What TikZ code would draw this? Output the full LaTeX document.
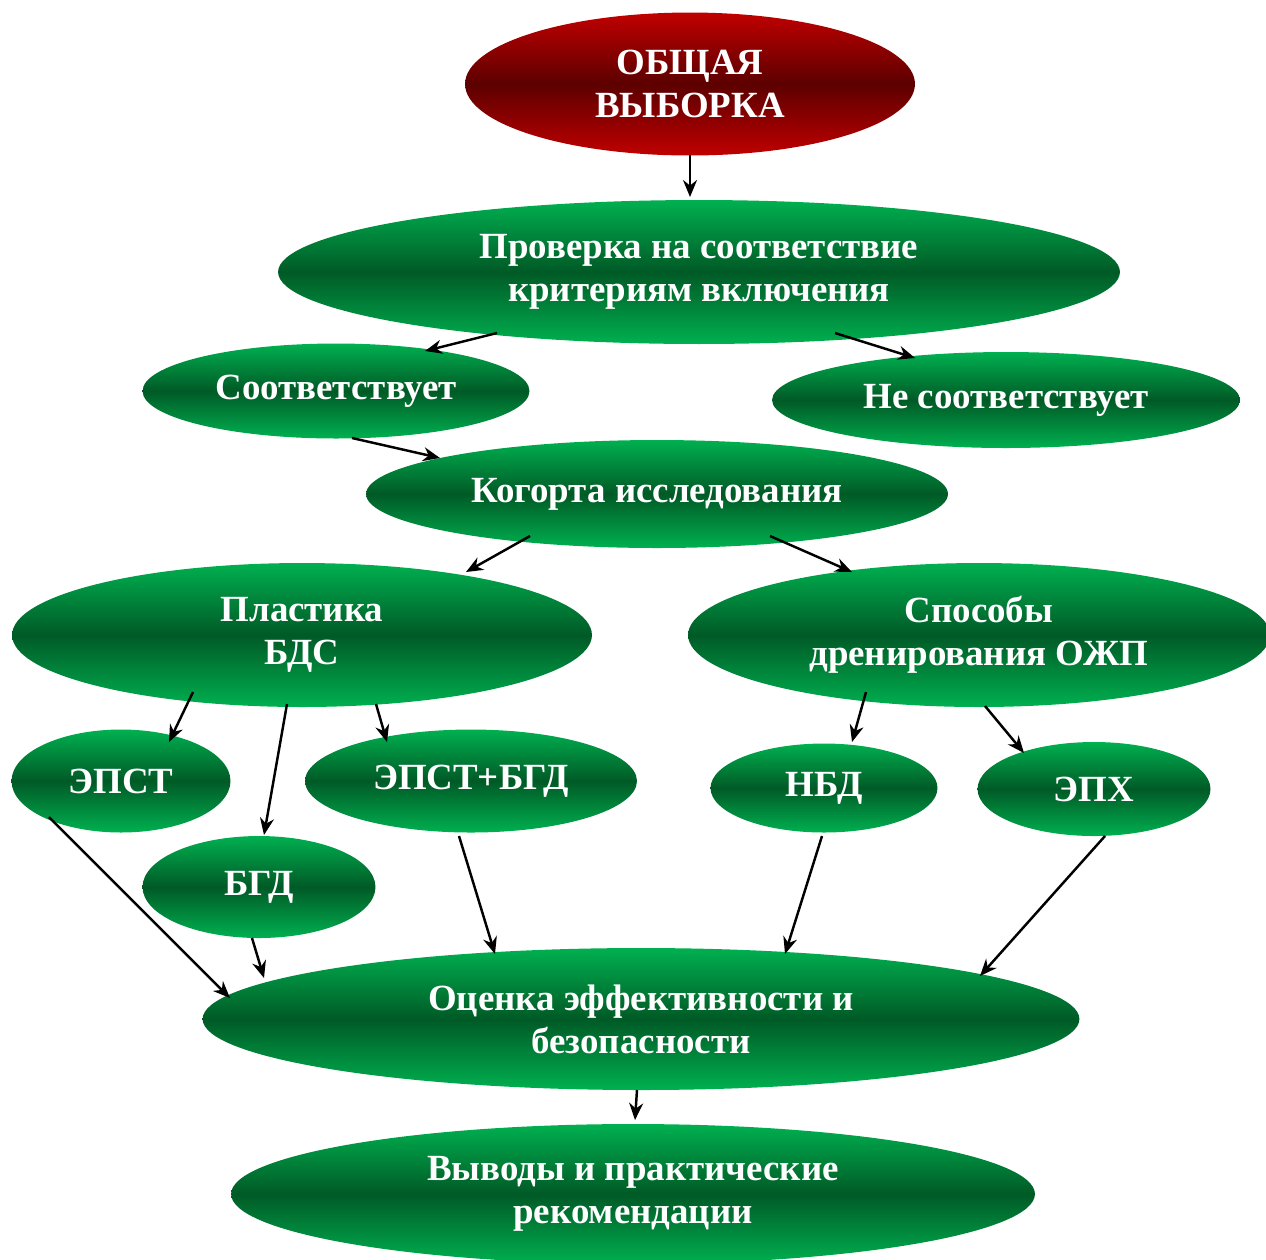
\documentclass[tikz,border=0pt]{standalone}
\usepackage{fontspec}
\setmainfont{Liberation Serif}
\usepackage{tikz}
\usetikzlibrary{shapes.geometric, positioning, arrows.meta}
\definecolor{grlight}{HTML}{00B050}
\definecolor{grdark}{HTML}{005A26}
\definecolor{rdlight}{HTML}{C00000}
\definecolor{rddark}{HTML}{5C0000}

\begin{document}
\begin{tikzpicture}[
        x=0.02cm, y=-0.02cm,
        every node/.style={font=\bfseries\fontsize{21}{24.5}\selectfont, align=center, text=white},
        root/.style={ellipse, inner sep=0pt, top color=rdlight, bottom color=rdlight, middle color=rddark},
        stage/.style={ellipse, inner sep=0pt, top color=grlight, bottom color=grlight, middle color=grdark},
        arrow/.style={-{Stealth[length=0.34cm, width=0.28cm]}, line width=1.4pt}
    ]
    \useasboundingbox (0,0) rectangle (1266,1259);
%
    % Level 1 : sample
    \node[root, minimum width=9cm, minimum height=2.86cm] (obsh) at (690,84) {ОБЩАЯ\\ВЫБОРКА};
%
    % Level 2 : criteria check
    \node[stage, minimum width=16.84cm, minimum height=2.88cm] (prov) at (699,272) {Проверка на соответствие\\критериям включения};
    \node[stage, minimum width=7.74cm, minimum height=1.9cm] (sootv) at (336,391) {Соответствует};
    \node[stage, minimum width=9.36cm, minimum height=1.92cm] (nesootv) at (1006,400) {Не соответствует};
    \node[stage, minimum width=11.64cm, minimum height=2.16cm] (kog) at (657,494) {Когорта исследования};
%
    % Level 3 : groups
    \node[stage, minimum width=11.6cm, minimum height=2.88cm] (plast) at (302,635) {Пластика\\БДС};
    \node[stage, minimum width=11.64cm, minimum height=2.88cm] (sposob) at (979,635) {Способы\\дренирования ОЖП};
%
    % Level 4 : methods
    \node[stage, minimum width=4.38cm, minimum height=2.06cm] (epst) at (121,781) {ЭПСТ};
    \node[stage, minimum width=6.64cm, minimum height=2.06cm] (epstbgd) at (471,781) {ЭПСТ+БГД};
    \node[stage, minimum width=4.66cm, minimum height=2.04cm] (bgd) at (259,887) {БГД};
    \node[stage, minimum width=4.54cm, minimum height=1.78cm] (nbd) at (824,788) {НБД};
    \node[stage, minimum width=4.66cm, minimum height=1.88cm] (eph) at (1094,789) {ЭПХ};
%
    % Level 5 : results
    \node[stage, minimum width=17.54cm, minimum height=2.84cm] (ocenka) at (641,1019) {Оценка эффективности и\\безопасности};
    \node[stage, minimum width=16.08cm, minimum height=2.8cm] (vyvod) at (633,1194) {Выводы и практические\\рекомендации};
%
    % Arrows level 1 to 3
    \draw[arrow] ([shift={(0,71)}]obsh.center) -- ([shift={(-9,-75)}]prov.center);
    \draw[arrow] ([shift={(-202,61)}]prov.center) -- ([shift={(89,-40)}]sootv.center);
    \draw[arrow] ([shift={(136,61)}]prov.center) -- ([shift={(-91,-42)}]nesootv.center);
    \draw[arrow] ([shift={(16,47)}]sootv.center) -- ([shift={(-217,-36)}]kog.center);
    \draw[arrow] ([shift={(-127,42)}]kog.center) -- ([shift={(164,-63)}]plast.center);
    \draw[arrow] ([shift={(113,42)}]kog.center) -- ([shift={(-127,-63)}]sposob.center);
%
    % Arrows level 3 to 4
    \draw[arrow] ([shift={(-109,57)}]plast.center) -- ([shift={(48,-39)}]epst.center);
    \draw[arrow] ([shift={(-15,69)}]plast.center) -- ([shift={(5,-52)}]bgd.center);
    \draw[arrow] ([shift={(74,69)}]plast.center) -- ([shift={(-84,-39)}]epstbgd.center);
    \draw[arrow] ([shift={(-113,57)}]sposob.center) -- ([shift={(28,-46)}]nbd.center);
    \draw[arrow] ([shift={(6,71)}]sposob.center) -- ([shift={(-70,-36)}]eph.center);
%
    % Arrows level 4 to 5
    \draw[arrow] ([shift={(-72,36)}]epst.center) -- ([shift={(-411,-21)}]ocenka.center);
    \draw[arrow] ([shift={(-7,51)}]bgd.center) -- ([shift={(-377,-41)}]ocenka.center);
    \draw[arrow] ([shift={(-12,55)}]epstbgd.center) -- ([shift={(-146,-65)}]ocenka.center);
    \draw[arrow] ([shift={(-2,48)}]nbd.center) -- ([shift={(144,-65)}]ocenka.center);
    \draw[arrow] ([shift={(11,47)}]eph.center) -- ([shift={(339,-43)}]ocenka.center);
    \draw[arrow] ([shift={(-4,71)}]ocenka.center) -- ([shift={(2,-74)}]vyvod.center);
%
\end{tikzpicture}
\end{document}
